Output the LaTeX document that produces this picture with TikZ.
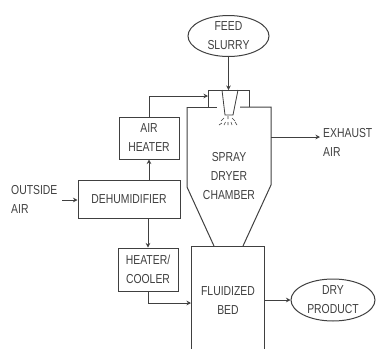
\documentclass[tikz,border=0pt]{standalone}
\usepackage{fontspec}
\setmainfont[FakeStretch=0.8]{Liberation Sans}
\usetikzlibrary{shapes.geometric,arrows.meta}
\definecolor{ln}{gray}{0.25}
\definecolor{tx}{gray}{0.25}
\tikzset{
  x=1pt,y=-1pt,
  box/.style={draw=ln,line width=1pt,rectangle,inner sep=0pt,text=tx,align=center,font=\fontsize{13}{19}\selectfont},
  oval/.style={draw=ln,line width=1pt,ellipse,inner sep=0pt,text=tx,align=center,font=\fontsize{13}{19}\selectfont},
  lab/.style={inner sep=0pt,text=tx,align=left,font=\fontsize{13}{19}\selectfont},
  conn/.style={draw=ln,line width=1pt,-{Stealth[length=4.5pt,width=4.5pt]}},
  wall/.style={draw=ln,line width=1pt},
  spray/.style={draw=ln,line width=0.6pt}
}
\begin{document}
\begin{tikzpicture}
\useasboundingbox (0,0) rectangle (376,349);
\node[oval,minimum width=81pt,minimum height=41pt] (feed) at (228.5,36) {FEED\\SLURRY};
\node[oval,minimum width=84pt,minimum height=42pt] (dry) at (333,300) {DRY\\PRODUCT};
\node[box,minimum width=60pt,minimum height=42pt] (heater) at (149,138) {AIR\\HEATER};
\node[box,minimum width=102pt,minimum height=38pt] (dehum) at (129,199) {DEHUMIDIFIER};
\node[box,minimum width=60pt,minimum height=43pt] (cooler) at (148,269.5) {HEATER/\\COOLER};
\node[lab,anchor=west] (outside) at (11,199.5) {OUTSIDE\\AIR};
\node[lab,anchor=west] (exhaust) at (323,142) {EXHAUST\\AIR};
\node[lab,align=center] (chamberlabel) at (229,176) {SPRAY\\DRYER\\CHAMBER};
\node[lab,align=center] (bedlabel) at (228,300.5) {FLUIDIZED\\BED};
% chamber walls
\coordinate (chamberR) at (271,137);
\coordinate (inletL) at (208,96);
\coordinate (nozzleTop) at (228.5,90);
\draw[wall] (187,107) -- (217,107);
\draw[wall] (240,107) -- (271,107) -- (271,185) -- (243,246);
\draw[wall] (187,107) -- (187,187) -- (214,246);
\draw[wall] (208,107) -- (208,90) -- (249,90) -- (249,107);
\draw[wall,line width=0.8pt] (222,90) -- (225,115) -- (233,115) -- (238,90);
\draw[spray] (228,116) -- (228,119) (224,118) -- (221,121) (232,118) -- (235,121)
  (219,125) -- (222,123) (224,125) -- (225.5,122) (228,125) -- (228,122) (232,125) -- (231,122) (237,125) -- (235,122);
% fluidized bed
\coordinate (bedL) at (191,303);
\coordinate (bedR) at (264,300);
\draw[wall] (191,349) -- (191,246) -- (264,246) -- (264,349);
% connectors
\draw[conn] (feed.south) -- (nozzleTop);
\draw[conn] (heater.north) |- (inletL);
\draw[conn] (dehum.north -| heater.south) -- (heater.south);
\draw[conn] (62,200) coordinate (outEnd) -- (dehum.west |- outEnd);
\draw[conn] (dehum.south -| cooler.north) -- (cooler.north);
\draw[conn] (cooler.south) |- (bedL);
\draw[conn] (bedR) -- (dry.west);
\draw[conn] (chamberR) -- (320,137) coordinate (exEnd);
\end{tikzpicture}
\end{document}
